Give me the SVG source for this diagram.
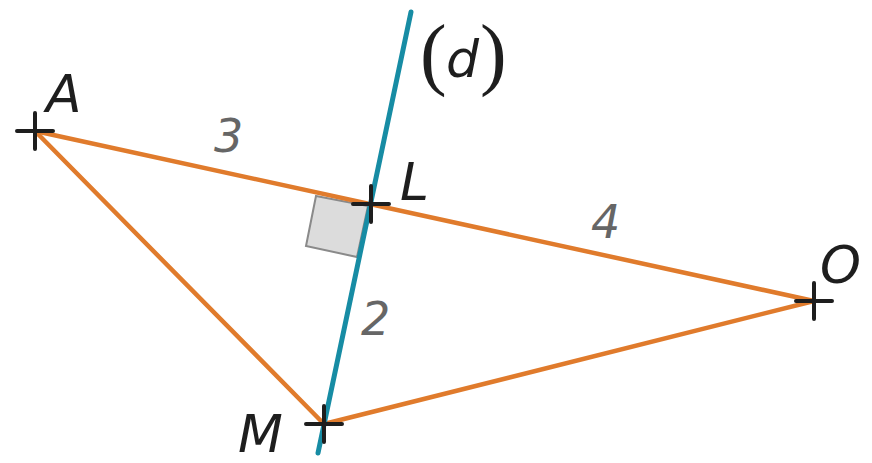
<svg xmlns="http://www.w3.org/2000/svg" width="872" height="463" viewBox="0 0 872 463">
<style>
.seg{stroke:#e07b2c;stroke-width:4.5;stroke-linecap:round;fill:none}
.d{stroke:#178ca4;stroke-width:5;stroke-linecap:round}
.x{stroke:#1e1e1e;stroke-width:4;stroke-linecap:round}
.lbl{font-family:"DejaVu Sans","Liberation Sans",sans-serif;font-style:italic;font-size:52px;fill:#1e1e1e}
.num{font-family:"DejaVu Sans","Liberation Sans",sans-serif;font-style:italic;font-size:46px;fill:#666}
.par{font-family:"Liberation Serif",serif;font-size:80px;fill:#1e1e1e}
</style>
<rect width="872" height="463" fill="#fff"/>
<g id="connectors">
<polygon id="rightangle" points="316,196 368,206 357,257 306,246" fill="#dcdcdc" stroke="#8a8a8a" stroke-width="2"/>
<line class="seg" x1="35" y1="131" x2="814" y2="301"/>
<line class="seg" x1="35" y1="131" x2="324" y2="424"/>
<line class="seg" x1="324" y1="424" x2="814" y2="301"/>
<line class="d" x1="411" y1="12" x2="318" y2="453"/>
</g>
<g id="A"><path class="x" d="M17,131H53M35,113V149"/><text class="lbl" x="46" y="112">A</text></g>
<g id="L"><path class="x" d="M353,204H389M371,186V222"/><text class="lbl" x="400" y="200">L</text></g>
<g id="O"><path class="x" d="M796,301H832M814,283V319"/><text class="lbl" x="820" y="283">O</text></g>
<g id="M"><path class="x" d="M306,424H342M324,406V442"/><text class="lbl" x="238" y="452">M</text></g>
<g id="d"><text class="par" x="420" y="80">(</text><text class="lbl" x="446" y="77" font-size="46">d</text><text class="par" x="480" y="80">)</text></g>
<g id="labels">
<text class="num" x="214" y="152">3</text>
<text class="num" x="591" y="238">4</text>
<text class="num" x="361" y="335">2</text>
</g>
</svg>
